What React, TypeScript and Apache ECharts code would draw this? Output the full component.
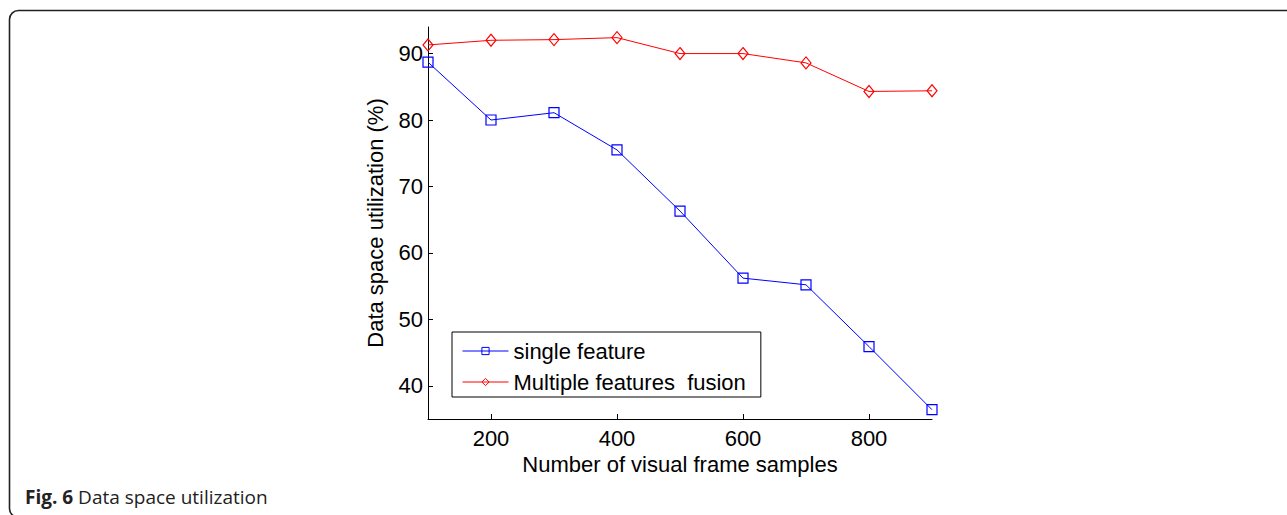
import React, { useEffect, useRef } from "react";
import * as echarts from "echarts";

const xValues = [100, 200, 300, 400, 500, 600, 700, 800, 900];
const singleFeature = [88.7, 80.0, 81.1, 75.5, 66.3, 56.2, 55.2, 45.9, 36.4];
const multipleFusion = [91.3, 92.0, 92.1, 92.4, 90.0, 90.0, 88.6, 84.3, 84.4];
const xTicks = [200, 400, 600, 800];
const yTicks = [40, 50, 60, 70, 80, 90];
const seriesNames = ["single feature", "Multiple features  fusion"];
const xName = "Number of visual frame samples";
const yName = "Data space utilization (%)";
const captionBold = "Fig. 6";
const captionText = "Data space utilization";

const FONT = "'Liberation Sans', Arial, sans-serif";

export default function App() {
  const ref = useRef<HTMLDivElement>(null);
  useEffect(() => {
    if (!ref.current) return;
    const chart = echarts.init(ref.current, undefined, { renderer: "svg" });
    const axisCommon = {
      type: "value" as const,
      axisLine: { show: true, lineStyle: { color: "#000", width: 1 } },
      splitLine: { show: false },
      nameLocation: "middle" as const,
      nameTextStyle: { fontSize: 22, color: "#000", fontFamily: FONT },
    };
    chart.setOption({
      animation: false,
      backgroundColor: "#fff",
      grid: { left: 428, right: 355, top: 27, bottom: 96, containLabel: false },
      xAxis: {
        ...axisCommon,
        min: 100,
        max: 900,
        name: xName,
        nameGap: 33,
        axisTick: { show: true, inside: true, length: 5, customValues: xTicks, lineStyle: { color: "#000" } },
        axisLabel: { customValues: xTicks, fontSize: 22, color: "#000", fontFamily: FONT, margin: 8 },
      },
      yAxis: {
        ...axisCommon,
        min: 35,
        max: 94,
        name: yName,
        nameGap: 42,
        axisTick: { show: true, inside: true, length: 5, customValues: yTicks, lineStyle: { color: "#000" } },
        axisLabel: { customValues: yTicks, fontSize: 22, color: "#000", fontFamily: FONT, margin: 5 },
      },
      legend: {
        orient: "vertical",
        left: 452,
        top: 332,
        itemWidth: 46,
        itemHeight: 9,
        itemGap: 9,
        padding: [8, 15, 4, 10],
        borderColor: "#000",
        borderWidth: 1,
        backgroundColor: "#fff",
        lineStyle: { width: 1 },
        itemStyle: { borderWidth: 1 },
        textStyle: { fontSize: 22, color: "#000", fontFamily: FONT },
        data: seriesNames,
      },
      series: [
        {
          name: seriesNames[0],
          type: "line",
          data: xValues.map((x, i) => [x, singleFeature[i]]),
          symbol: "rect",
          symbolSize: 10,
          clip: false,
          itemStyle: { color: "rgba(0,0,0,0)", borderColor: "#0000ff", borderWidth: 1.2 },
          lineStyle: { color: "#0000ff", width: 1 },
          emphasis: { disabled: true },
          z: 3,
        },
        {
          name: seriesNames[1],
          type: "line",
          data: xValues.map((x, i) => [x, multipleFusion[i]]),
          symbol: "diamond",
          symbolSize: [10, 12],
          clip: false,
          itemStyle: { color: "rgba(0,0,0,0)", borderColor: "#ff0000", borderWidth: 1.2 },
          lineStyle: { color: "#ff0000", width: 1 },
          emphasis: { disabled: true },
          z: 3,
        },
      ],
      graphic: [
        {
          type: "rect",
          shape: { x: 9.5, y: 10.5, width: 1300, height: 507, r: 9 },
          style: { fill: "none", stroke: "#222", lineWidth: 1.6 },
          silent: true,
          z: -1,
        },
        {
          type: "text",
          x: 25,
          y: 497,
          style: {
            text: "{b|" + captionBold + "} " + captionText,
            rich: {
              b: { fontWeight: "bold", fontSize: 19, fontFamily: "'Open Sans', sans-serif", fill: "#222" },
            },
            fontSize: 19,
            fontFamily: "'Open Sans', sans-serif",
            fill: "#222",
            verticalAlign: "middle",
            align: "left",
          },
          silent: true,
        },
      ],
    });
    return () => chart.dispose();
  }, []);
  return (
    <div
      ref={ref}
      style={{ position: "absolute", left: 0, top: 0, width: 1287, height: 515 }}
    />
  );
}
